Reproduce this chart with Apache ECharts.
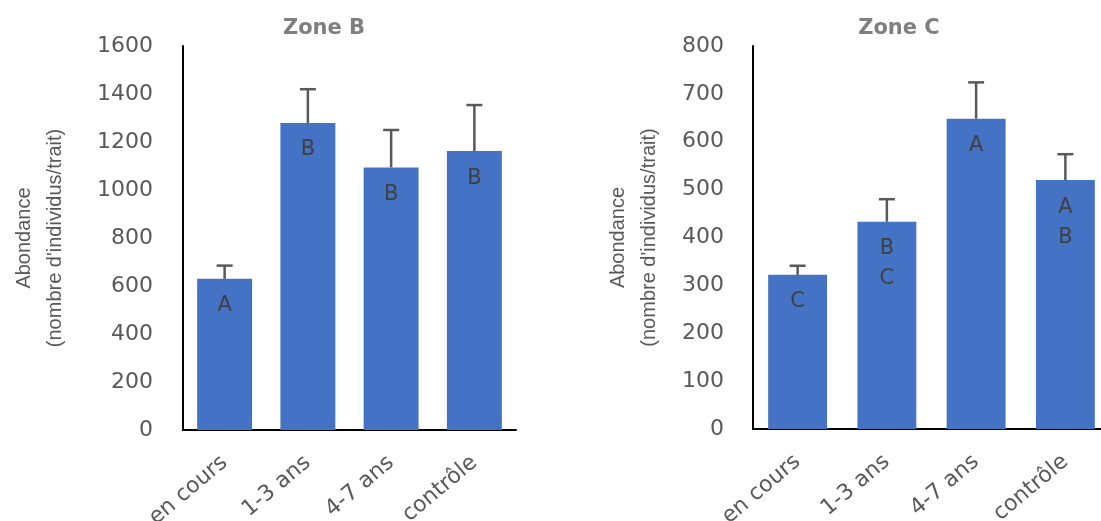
<!DOCTYPE html>
<html>
<head>
<meta charset="utf-8">
<script src="https://cdn.jsdelivr.net/npm/echarts@6/dist/echarts.min.js"></script>
<style>
html, body { margin: 0; padding: 0; background: #fff; }
#chart { width: 1101px; height: 521px; }
</style>
</head>
<body>
<div id="chart"></div>
<script>
var categories = ['en cours', '1-3 ans', '4-7 ans', 'contrôle'];
// Zone B
var meanB = [630, 1279, 1094, 1162];
var errB = [55, 141, 156, 192];
var lettersB = ['A', 'B', 'B', 'B'];
// Zone C
var meanC = [322, 433, 648, 520];
var errC = [19, 47, 76, 54];
var lettersC = ['C', 'B\nC', 'A', 'A\nB'];

var barColor = '#4472C4';
var textGray = '#595959';

function errData(mean, err) {
    var out = [];
    for (var i = 0; i < mean.length; i++) {
        out.push([i, mean[i], err[i]]);
    }
    return out;
}

function renderErr(params, api) {
    var x = api.value(0);
    var lo = api.coord([x, api.value(1)]);
    var hi = api.coord([x, api.value(1) + api.value(2)]);
    var half = 8;
    var st = { stroke: '#595959', lineWidth: 2.5 };
    return {
        type: 'group',
        children: [
            { type: 'line', shape: { x1: lo[0], y1: lo[1], x2: hi[0], y2: hi[1] }, style: st },
            { type: 'line', shape: { x1: hi[0] - half, y1: hi[1], x2: hi[0] + half, y2: hi[1] }, style: st }
        ]
    };
}

function xAxisOpt(idx) {
    return {
        type: 'category',
        gridIndex: idx,
        data: categories,
        axisLine: { lineStyle: { color: '#000', width: 2 } },
        axisTick: { show: false },
        axisLabel: {
            rotate: 40,
            margin: 30,
            interval: 0,
            color: textGray,
            fontSize: 22,
            fontFamily: 'DejaVu Sans'
        }
    };
}

function yAxisOpt(idx, max, interval, gap, margin) {
    return {
        type: 'value',
        gridIndex: idx,
        min: 0,
        max: max,
        interval: interval,
        name: 'Abondance\n(nombre d\'individus/trait)',
        nameLocation: 'middle',
        nameGap: gap,
        nameTextStyle: {
            color: textGray,
            fontSize: 20,
            lineHeight: 31,
            fontFamily: 'Liberation Sans Narrow, Liberation Sans'
        },
        axisLine: { show: true, lineStyle: { color: '#000', width: 2 } },
        axisTick: { show: false },
        splitLine: { show: false },
        axisLabel: {
            margin: margin,
            color: textGray,
            fontSize: 22,
            fontFamily: 'DejaVu Sans',
            formatter: function (v) { return String(v); }
        }
    };
}

function barSeries(idx, mean, letters) {
    return {
        type: 'bar',
        xAxisIndex: idx,
        yAxisIndex: idx,
        barWidth: '66%',
        itemStyle: { color: barColor },
        data: mean,
        label: {
            show: true,
            position: 'insideTop',
            distance: 12,
            color: '#404040',
            fontSize: 21,
            lineHeight: 30,
            fontFamily: 'DejaVu Sans',
            formatter: function (p) { return letters[p.dataIndex]; }
        },
        z: 2
    };
}

var titleStyle = { color: '#7f7f7f', fontSize: 21, fontWeight: 'bold', fontFamily: 'DejaVu Sans' };

var options = {
    animation: false,
    backgroundColor: '#fff',
    title: [
        { text: 'Zone B', left: 319, top: 13, textAlign: 'center', textStyle: titleStyle },
        { text: 'Zone C', left: 894, top: 13, textAlign: 'center', textStyle: titleStyle }
    ],
    grid: [
        { left: 183, top: 46, width: 333, height: 384, containLabel: false, outerBoundsMode: 'none' },
        { left: 753, top: 46, width: 357, height: 383, containLabel: false, outerBoundsMode: 'none' }
    ],
    xAxis: [xAxisOpt(0), xAxisOpt(1)],
    yAxis: [yAxisOpt(0, 1600, 200, 112, 30), yAxisOpt(1, 800, 100, 88, 29)],
    series: [
        barSeries(0, meanB, lettersB),
        {
            type: 'custom',
            xAxisIndex: 0,
            yAxisIndex: 0,
            renderItem: renderErr,
            data: errData(meanB, errB),
            z: 3
        },
        barSeries(1, meanC, lettersC),
        {
            type: 'custom',
            xAxisIndex: 1,
            yAxisIndex: 1,
            renderItem: renderErr,
            data: errData(meanC, errC),
            z: 3
        }
    ]
};

var myChart = echarts.init(document.getElementById('chart'));
myChart.setOption(options);
</script>
</body>
</html>
